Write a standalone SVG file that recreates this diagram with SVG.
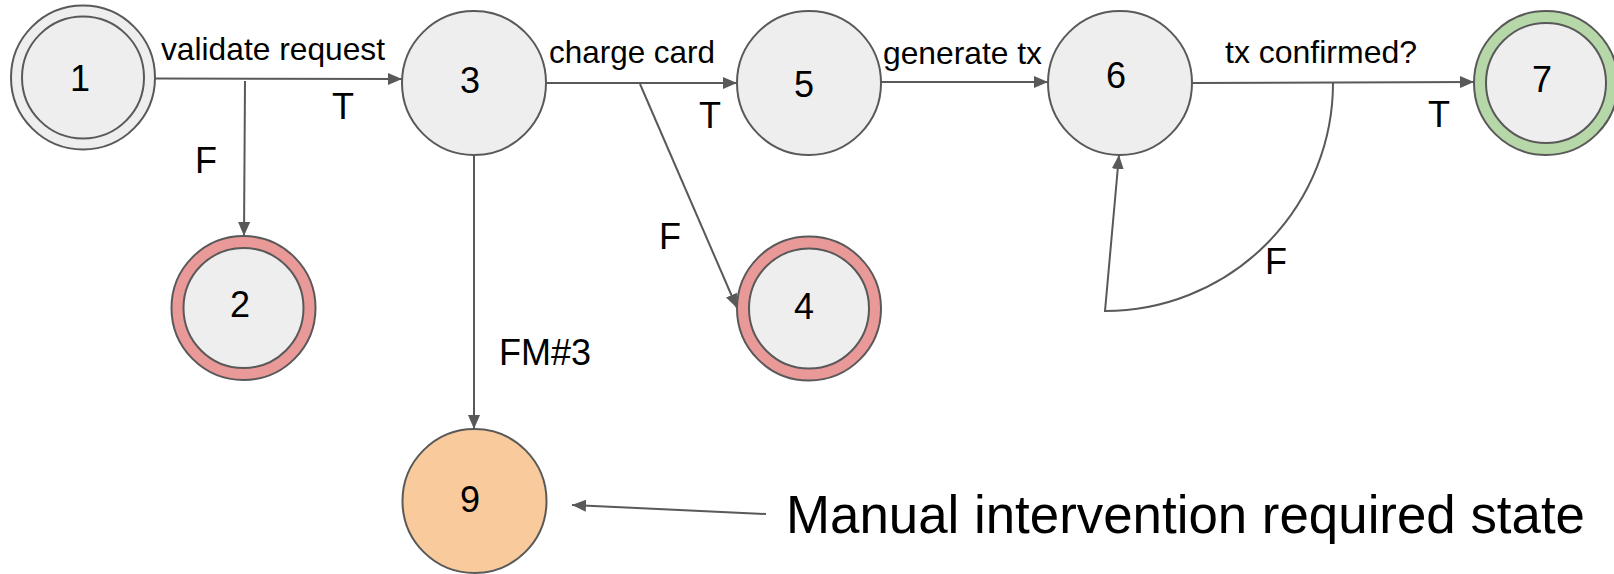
<svg xmlns="http://www.w3.org/2000/svg" width="1614" height="574" viewBox="0 0 1614 574">
<defs>
<style>
.n{stroke:#595959;stroke-width:2}
.g{fill:#eeeeee}
.r{fill:#ea9999}
.gr{fill:#b6d7a8}
.o{fill:#f9cb9c}
.num{font-family:"Liberation Sans",Arial,sans-serif;font-size:36px;fill:#000;text-anchor:middle}
.lbl{font-family:"Liberation Sans",Arial,sans-serif;font-size:32px;fill:#000}
.tf{font-family:"Liberation Sans",Arial,sans-serif;font-size:36px;fill:#000}
.e{fill:none;stroke:#595959;stroke-width:2;marker-end:url(#ah)}
</style>
<marker id="ah" markerUnits="userSpaceOnUse" markerWidth="16" markerHeight="12" refX="14" refY="6" orient="auto">
<path d="M0,0 L14,6 L0,12 z" fill="#595959"/>
</marker>
</defs>
<rect width="1614" height="574" fill="#ffffff"/>
<g id="connectors">
<path class="e" d="M155,78.5 L402,79"/>
<path class="e" d="M245,81 L244,236"/>
<path class="e" d="M546,83 L737,83"/>
<path class="e" d="M640,84 L737,308"/>
<path class="e" d="M474,155 L474,429"/>
<path class="e" d="M880,82 L1048,82"/>
<path class="e" d="M1192,83 L1474,82"/>
<path class="e" d="M1333,83 A228,228 0 0 1 1105,311 L1119,155"/>
<path class="e" d="M766,514 L572,505"/>
</g>
<g id="labels">
<text class="lbl" x="161" y="60" textLength="224" lengthAdjust="spacingAndGlyphs">validate request</text>
<text class="tf" x="332" y="119">T</text>
<text class="tf" x="195" y="173">F</text>
<text class="lbl" x="549" y="63" textLength="166" lengthAdjust="spacingAndGlyphs">charge card</text>
<text class="tf" x="699" y="128">T</text>
<text class="tf" x="659" y="249">F</text>
<text class="tf" x="499" y="365">FM#3</text>
<text class="lbl" x="883" y="64" textLength="159" lengthAdjust="spacingAndGlyphs">generate tx</text>
<text class="lbl" x="1225" y="63" textLength="192" lengthAdjust="spacingAndGlyphs">tx confirmed?</text>
<text class="tf" x="1428" y="127">T</text>
<text class="tf" x="1265" y="274">F</text>
<text x="786" y="533" font-family="Liberation Sans, Arial, sans-serif" font-size="53" fill="#000" textLength="799" lengthAdjust="spacingAndGlyphs">Manual intervention required state</text>
</g>
<g id="node1">
<circle class="n g" cx="83" cy="77.5" r="72"/>
<circle class="n g" cx="83" cy="77.5" r="61"/>
<text class="num" x="80" y="91">1</text>
</g>
<g id="node3">
<circle class="n g" cx="474" cy="83" r="72"/>
<text class="num" x="470" y="93">3</text>
</g>
<g id="node5">
<circle class="n g" cx="809" cy="83" r="72"/>
<text class="num" x="804" y="97">5</text>
</g>
<g id="node6">
<circle class="n g" cx="1120" cy="83" r="72"/>
<text class="num" x="1116" y="88">6</text>
</g>
<g id="node7">
<circle class="n gr" cx="1546" cy="83" r="72"/>
<circle class="n g" cx="1546" cy="83" r="60"/>
<text class="num" x="1542" y="92">7</text>
</g>
<g id="node2">
<circle class="n r" cx="243.5" cy="308" r="72"/>
<circle class="n g" cx="243.5" cy="308" r="60"/>
<text class="num" x="240" y="317">2</text>
</g>
<g id="node4">
<circle class="n r" cx="809" cy="308.5" r="72"/>
<circle class="n g" cx="809" cy="308.5" r="60"/>
<text class="num" x="804" y="319">4</text>
</g>
<g id="node9">
<circle class="n o" cx="474.5" cy="501" r="72"/>
<text class="num" x="470" y="512">9</text>
</g>
</svg>
